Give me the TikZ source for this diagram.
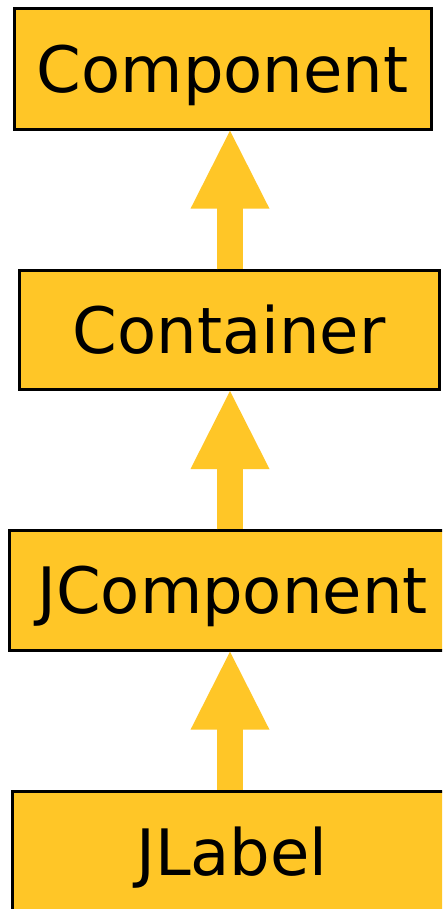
\documentclass[tikz,border=0pt]{standalone}
\usepackage{fontspec}
\setmainfont{DejaVu Sans}
\usetikzlibrary{arrows.meta}
\definecolor{gold}{HTML}{FFC627}
\tikzset{
  classbox/.style={draw=black, line width=3pt, fill=gold, rectangle, inner sep=0pt,
    text height=46.7pt, text depth=0pt, font=\fontsize{64}{77}\selectfont},
  inherit/.style={draw=gold, line width=26.5pt,
    -{Triangle[width=79pt,length=78pt,line width=0pt,fill=gold]},
    postaction={draw=gold, line width=26.5pt, -, shorten >=70pt}}
}
\begin{document}
\begin{tikzpicture}[x=1pt,y=-1pt]
\useasboundingbox (0,0) rectangle (442,909);
\fill[white] (0,0) rectangle (442,909);
\clip (0,0) rectangle (442,909);
\node[classbox, minimum width=417pt, minimum height=120.7pt] (comp) at (222.7,68.85) {Component};
\node[classbox, minimum width=420pt, minimum height=118.7pt] (cont) at (229.2,330.15) {Container};
\node[classbox, minimum width=447pt, minimum height=119.4pt] (jcomp) at (232.5,590.5) {JComponent};
\node[classbox, minimum width=440pt, minimum height=122pt] (jlab) at (232,852) {JLabel};
\coordinate (spine) at (230,0);
\draw[inherit] (cont.north -| spine) -- (comp.south -| spine);
\draw[inherit] (jcomp.north -| spine) -- (cont.south -| spine);
\draw[inherit] (jlab.north -| spine) -- (jcomp.south -| spine);
\end{tikzpicture}
\end{document}
